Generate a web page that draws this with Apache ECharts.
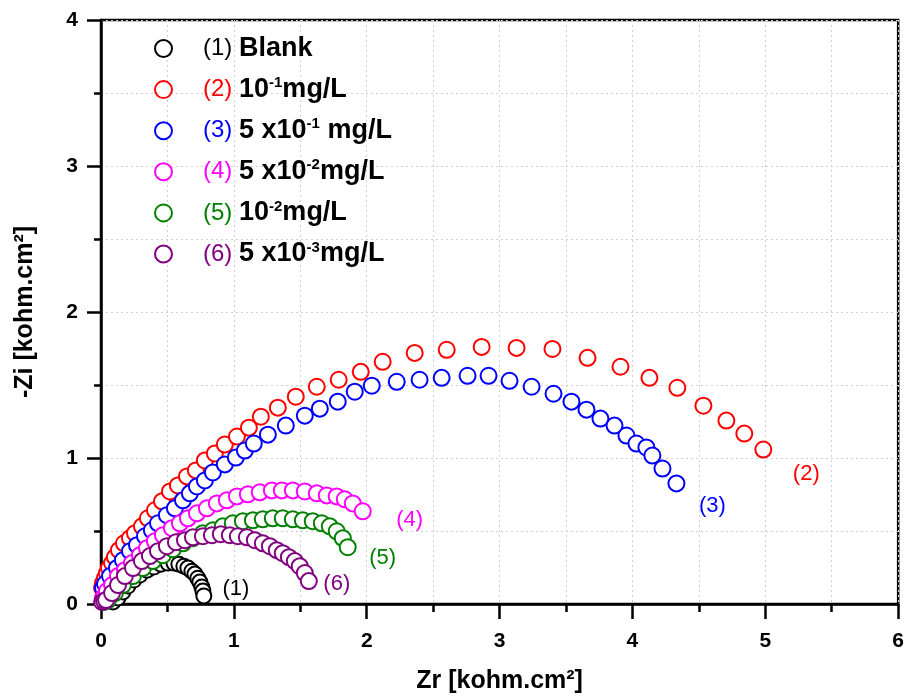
<!DOCTYPE html>
<html>
<head>
<meta charset="utf-8">
<script src="https://cdn.jsdelivr.net/npm/echarts@6/dist/echarts.min.js"></script>
<style>
html,body{margin:0;padding:0;background:#fff;}
#chart{width:907px;height:699px;}
</style>
</head>
<body>
<div id="chart"></div>
<script>
// ---- data (Zr, -Zi in kohm.cm²) ----
var zr1 = [0.090,0.128,0.165,0.203,0.248,0.293,0.346,0.398,0.451,0.504,0.549,0.586,0.624,0.654,0.684,0.707,0.729,0.744,0.759,0.767,0.774];
var zi1 = [0.014,0.041,0.082,0.123,0.164,0.198,0.232,0.253,0.273,0.280,0.280,0.273,0.259,0.246,0.225,0.205,0.177,0.150,0.116,0.089,0.055];

var zr2 = [0.008,0.015,0.030,0.045,0.060,0.083,0.105,0.135,0.173,0.218,0.256,0.308,0.353,0.406,0.459,0.519,0.579,0.647,0.714,0.782,0.857,0.932,1.023,1.113,1.203,1.331,1.466,1.624,1.789,1.955,2.120,2.361,2.602,2.865,3.128,3.398,3.662,3.910,4.128,4.338,4.534,4.707,4.842,4.985];
var zi2 = [0.109,0.143,0.177,0.212,0.246,0.280,0.321,0.369,0.416,0.451,0.485,0.532,0.587,0.642,0.703,0.771,0.812,0.874,0.915,0.983,1.031,1.092,1.147,1.208,1.283,1.345,1.420,1.488,1.536,1.590,1.659,1.720,1.741,1.761,1.754,1.747,1.686,1.625,1.549,1.481,1.358,1.256,1.167,1.058];

var zr3 = [0.015,0.030,0.068,0.120,0.165,0.218,0.271,0.331,0.383,0.429,0.496,0.556,0.617,0.669,0.722,0.782,0.842,0.932,1.015,1.083,1.150,1.256,1.391,1.534,1.647,1.782,1.910,2.038,2.226,2.398,2.564,2.759,2.917,3.075,3.241,3.406,3.541,3.654,3.759,3.865,3.955,4.030,4.105,4.150,4.226,4.331];
var zi3 = [0.109,0.137,0.191,0.246,0.300,0.362,0.403,0.464,0.505,0.553,0.608,0.655,0.710,0.758,0.805,0.846,0.901,0.956,1.003,1.051,1.099,1.160,1.222,1.290,1.338,1.386,1.454,1.495,1.522,1.536,1.549,1.563,1.563,1.529,1.488,1.440,1.386,1.331,1.270,1.222,1.154,1.099,1.072,1.017,0.928,0.826];

var zr4 = [0.015,0.045,0.083,0.128,0.180,0.233,0.293,0.346,0.406,0.466,0.534,0.594,0.654,0.722,0.797,0.872,0.947,1.023,1.105,1.195,1.286,1.361,1.444,1.534,1.624,1.699,1.774,1.835,1.895,1.970];
var zi4 = [0.041,0.089,0.130,0.191,0.232,0.280,0.334,0.382,0.430,0.471,0.519,0.553,0.587,0.621,0.655,0.689,0.710,0.737,0.751,0.765,0.778,0.778,0.778,0.771,0.758,0.744,0.737,0.717,0.689,0.635];

var zr5 = [0.023,0.053,0.105,0.165,0.241,0.316,0.391,0.466,0.541,0.617,0.692,0.767,0.842,0.917,0.992,1.068,1.143,1.218,1.293,1.368,1.444,1.519,1.594,1.662,1.722,1.774,1.820,1.857];
var zi5 = [0.014,0.027,0.075,0.130,0.191,0.246,0.294,0.334,0.375,0.416,0.451,0.485,0.505,0.532,0.553,0.567,0.573,0.580,0.587,0.587,0.580,0.573,0.567,0.553,0.532,0.498,0.451,0.389];

var zr6 = [0.008,0.023,0.038,0.083,0.128,0.180,0.241,0.308,0.368,0.429,0.496,0.564,0.632,0.692,0.767,0.835,0.902,0.970,1.030,1.098,1.158,1.218,1.271,1.323,1.368,1.414,1.459,1.496,1.534,1.564];
var zi6 = [0.014,0.020,0.027,0.075,0.130,0.191,0.246,0.294,0.328,0.362,0.396,0.423,0.437,0.457,0.464,0.471,0.478,0.471,0.464,0.457,0.437,0.416,0.396,0.369,0.348,0.321,0.294,0.259,0.212,0.157];

var tags = ['(1)','(2)','(3)','(4)','(5)','(6)'];
var names = ['Blank','10-1mg/L','5 x10-1 mg/L','5 x10-2mg/L','10-2mg/L','5 x10-3mg/L'];
var xTicks = [0,1,2,3,4,5,6];
var yTicks = [0,1,2,3,4];

// ---- styles ----
var colors = ['#000000','#ff0000','#0000ff','#ff00ff','#008000','#800080'];
var labelOffsets = [[32,-7],[43,24],[36,23],[47,9],[35,11],[28,3]];
var legendRich = {
  b:{fontFamily:'Liberation Sans',fontWeight:'bold',fontSize:27,color:'#000',lineHeight:28},
  s:{fontFamily:'Liberation Sans',fontWeight:'bold',fontSize:15,color:'#000',lineHeight:16,verticalAlign:'top'}
};
for (var i=0;i<6;i++){
  legendRich['t'+i] = {fontFamily:'Liberation Sans',fontSize:24,color:colors[i],lineHeight:28,padding:[0,0,0,26]};
}
function legendText(idx){
  var t = '{t'+idx+'|'+tags[idx]+' }';
  switch(idx){
    case 0: return t+'{b|Blank}';
    case 1: return t+'{b|10}{s|-1}{b|mg/L}';
    case 2: return t+'{b|5 x10}{s|-1}{b| mg/L}';
    case 3: return t+'{b|5 x10}{s|-2}{b|mg/L}';
    case 4: return t+'{b|10}{s|-2}{b|mg/L}';
    case 5: return t+'{b|5 x10}{s|-3}{b|mg/L}';
  }
}
var xs=[zr1,zr2,zr3,zr4,zr5,zr6], ys=[zi1,zi2,zi3,zi4,zi5,zi6];
var series = [];
for (var k=0;k<6;k++){
  var d=[];
  for (var j=0;j<xs[k].length;j++){
    if (j===xs[k].length-1){
      d.push({value:[xs[k][j],ys[k][j]],label:{show:true,formatter:tags[k],position:'inside',offset:labelOffsets[k],
        color:colors[k],fontSize:22,fontFamily:'Liberation Sans'}});
    } else d.push([xs[k][j],ys[k][j]]);
  }
  series.push({
    name:names[k], type:'scatter', symbol:'emptyCircle', symbolSize: k===0?15:16,
    itemStyle:{color:colors[k],borderColor:colors[k],borderWidth:2.5,opacity:1},
    emphasis:{disabled:true}, animation:false, data:d
  });
}
var chart = echarts.init(document.getElementById('chart'),null,{renderer:'canvas'});
var axisCommon = {
  type:'value',
  axisLine:{show:true,onZero:false,lineStyle:{color:'#000',width:2.5}},
  axisTick:{show:true,inside:false,length:15,lineStyle:{color:'#000',width:2.5}},
  minorTick:{show:true,splitNumber:2,length:8,lineStyle:{color:'#000',width:2.5}},
  splitLine:{show:true,lineStyle:{color:'#d0d0d0',type:[2,3],width:1}},
  minorSplitLine:{show:true,lineStyle:{color:'#d0d0d0',type:[2,3],width:1}},
  axisLabel:{fontFamily:'Liberation Sans',fontWeight:'bold',fontSize:21,color:'#000'},
  nameLocation:'middle',
  nameTextStyle:{fontFamily:'Liberation Sans',fontWeight:'bold',fontSize:25,color:'#000'}
};
chart.setOption({
  backgroundColor:'#fff',
  animation:false,
  grid:{left:101,right:8,top:20,bottom:93,show:true,borderColor:'#000',borderWidth:2.5,backgroundColor:'transparent'},
  xAxis:Object.assign({},axisCommon,{min:xTicks[0],max:xTicks[xTicks.length-1],interval:1,name:'Zr [kohm.cm²]',nameGap:65,
    axisLabel:Object.assign({},axisCommon.axisLabel,{margin:27})}),
  yAxis:Object.assign({},axisCommon,{min:yTicks[0],max:yTicks[yTicks.length-1],interval:1,name:'-Zi [kohm.cm²]',nameGap:63,
    axisTick:Object.assign({},axisCommon.axisTick,{length:14}),
    minorTick:Object.assign({},axisCommon.minorTick,{length:7}),
    axisLabel:Object.assign({},axisCommon.axisLabel,{margin:23})}),
  legend:{
    orient:'vertical', left:154, top:35, padding:0, itemGap:13.6, itemWidth:17, itemHeight:17,
    data:names, selectedMode:false,
    formatter:function(n){return legendText(names.indexOf(n));},
    textStyle:{rich:legendRich}
  },
  series:series
});
</script>
</body>
</html>
